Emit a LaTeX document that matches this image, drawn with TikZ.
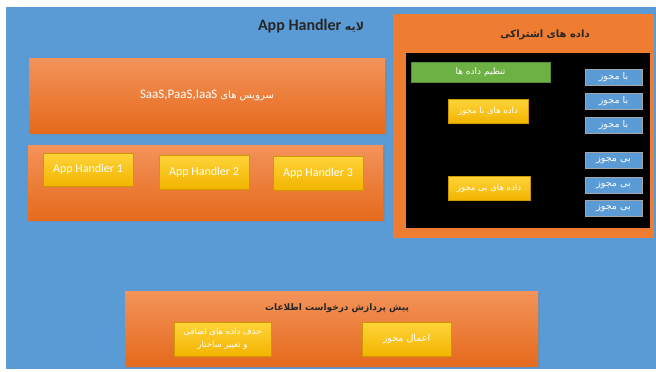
\documentclass[tikz,border=0pt]{standalone}
\usepackage{fontspec}
\setmainfont{Carlito}
\newfontfamily\arabicfont[Script=Arabic]{DejaVu Sans}
\TeXXeTstate=1
\usetikzlibrary{shadows}
\newcommand\fatxt[1]{{\arabicfont\beginR #1\endR}}
\definecolor{bgblue}{HTML}{5B9BD5}
\definecolor{orgtop}{HTML}{F3935A}
\definecolor{orgbot}{HTML}{E56A1C}
\definecolor{orgflat}{HTML}{EE7D31}
\definecolor{yeltop}{HTML}{FFD43A}
\definecolor{yelbot}{HTML}{F2B400}
\definecolor{grn}{HTML}{6DB043}
\definecolor{smallblue}{HTML}{5B9BD5}
\tikzset{
  box/.style={rectangle, inner sep=0pt, align=center},
  panel/.style={box, top color=orgtop, bottom color=orgbot,
    drop shadow={opacity=0.35, shadow xshift=1.5pt, shadow yshift=-1.5pt}},
  ybox/.style={box, top color=yeltop, bottom color=yelbot, draw=yelbot!85!black, line width=0.3pt,
    text=white, drop shadow={opacity=0.35, shadow xshift=1pt, shadow yshift=-1pt}},
  gbox/.style={box, fill=grn, draw=grn!80!black, line width=0.3pt, text=white},
  bbox/.style={box, fill=smallblue, draw=gray!70, line width=0.4pt, text=white,
    font=\fontsize{9.5}{10}\selectfont, minimum width=57pt, minimum height=16pt},
  ttl/.style={inner sep=0pt, text=black!85},
}
\begin{document}
\begin{tikzpicture}[x=1pt, y=-1pt]
\useasboundingbox (0,0) rectangle (656,372);
% blue backdrop of the whole layer
\node[box, fill=bgblue, minimum width=650pt, minimum height=362pt] (bg) at (331,188) {};
\node[ttl, font=\fontsize{16}{18}\selectfont\bfseries] (layertitle) at (311,26)
  {App Handler {\arabicfont\fontsize{11}{13}\selectfont\bfseries\beginR لایه\endR}};

% shared data panel
\node[box, fill=orgflat, minimum width=261pt, minimum height=224pt] (shared) at (523.5,126) {};
\node[ttl, font=\fontsize{10}{12}\selectfont\bfseries] (sharedtitle) at (545,35) {\fatxt{داده های اشتراکی}};
\node[box, fill=black, minimum width=244pt, minimum height=175pt] (store) at (528,140.5) {};
\node[gbox, minimum width=139pt, minimum height=20pt, font=\fontsize{9}{10}\selectfont] (tune) at (480.5,72) {\fatxt{تنظیم داده ها}};
\node[ybox, minimum width=80pt, minimum height=24pt, font=\fontsize{8.5}{9}\selectfont] (allowed) at (488,111) {\fatxt{داده های با مجوز}};
\node[ybox, minimum width=82pt, minimum height=24pt, font=\fontsize{8.5}{9}\selectfont] (denied) at (489,188) {\fatxt{داده های بی مجوز}};
\node[bbox] (a1) at (613.5,77) {\fatxt{با مجوز}};
\node[bbox] (a2) at (613.5,101.5) {\fatxt{با مجوز}};
\node[bbox] (a3) at (613.5,125.5) {\fatxt{با مجوز}};
\node[bbox] (d1) at (613.5,160.5) {\fatxt{بی مجوز}};
\node[bbox] (d2) at (613.5,185.5) {\fatxt{بی مجوز}};
\node[bbox] (d3) at (613.5,208.5) {\fatxt{بی مجوز}};

% services band
\node[panel, minimum width=356pt, minimum height=75pt, text=white, font=\fontsize{13}{15}\selectfont] (services) at (207,95.5)
  {SaaS,PaaS,IaaS \fatxt{\fontsize{10}{12}\selectfont سرویس های}};

% application handlers
\node[panel, minimum width=355pt, minimum height=75pt] (handlers) at (205.5,182.5) {};
\node[ybox, minimum width=90pt, minimum height=33pt, font=\fontsize{12}{13}\selectfont] (ah1) at (88,169.5) {App Handler 1};
\node[ybox, minimum width=90pt, minimum height=34pt, font=\fontsize{12}{13}\selectfont] (ah2) at (204,172) {App Handler 2};
\node[ybox, minimum width=90pt, minimum height=34pt, font=\fontsize{12}{13}\selectfont] (ah3) at (318,173) {App Handler 3};

% request preprocessing
\node[panel, minimum width=413pt, minimum height=75pt] (prep) at (331.5,328.5) {};
\node[ttl, font=\fontsize{9}{11}\selectfont\bfseries] (preptitle) at (337,308) {\fatxt{پیش پردازش درخواست اطلاعات}};
\node[ybox, minimum width=97pt, minimum height=34pt, font=\fontsize{8.5}{13}\selectfont] (cleanup) at (222.5,339)
  {\fatxt{حذف داده های اضافی}\\\fatxt{و تغییر ساختار}};
\node[ybox, minimum width=89pt, minimum height=34pt, font=\fontsize{9.5}{10}\selectfont] (apply) at (406.5,339) {\fatxt{اعمال مجوز}};
\end{tikzpicture}
\end{document}
